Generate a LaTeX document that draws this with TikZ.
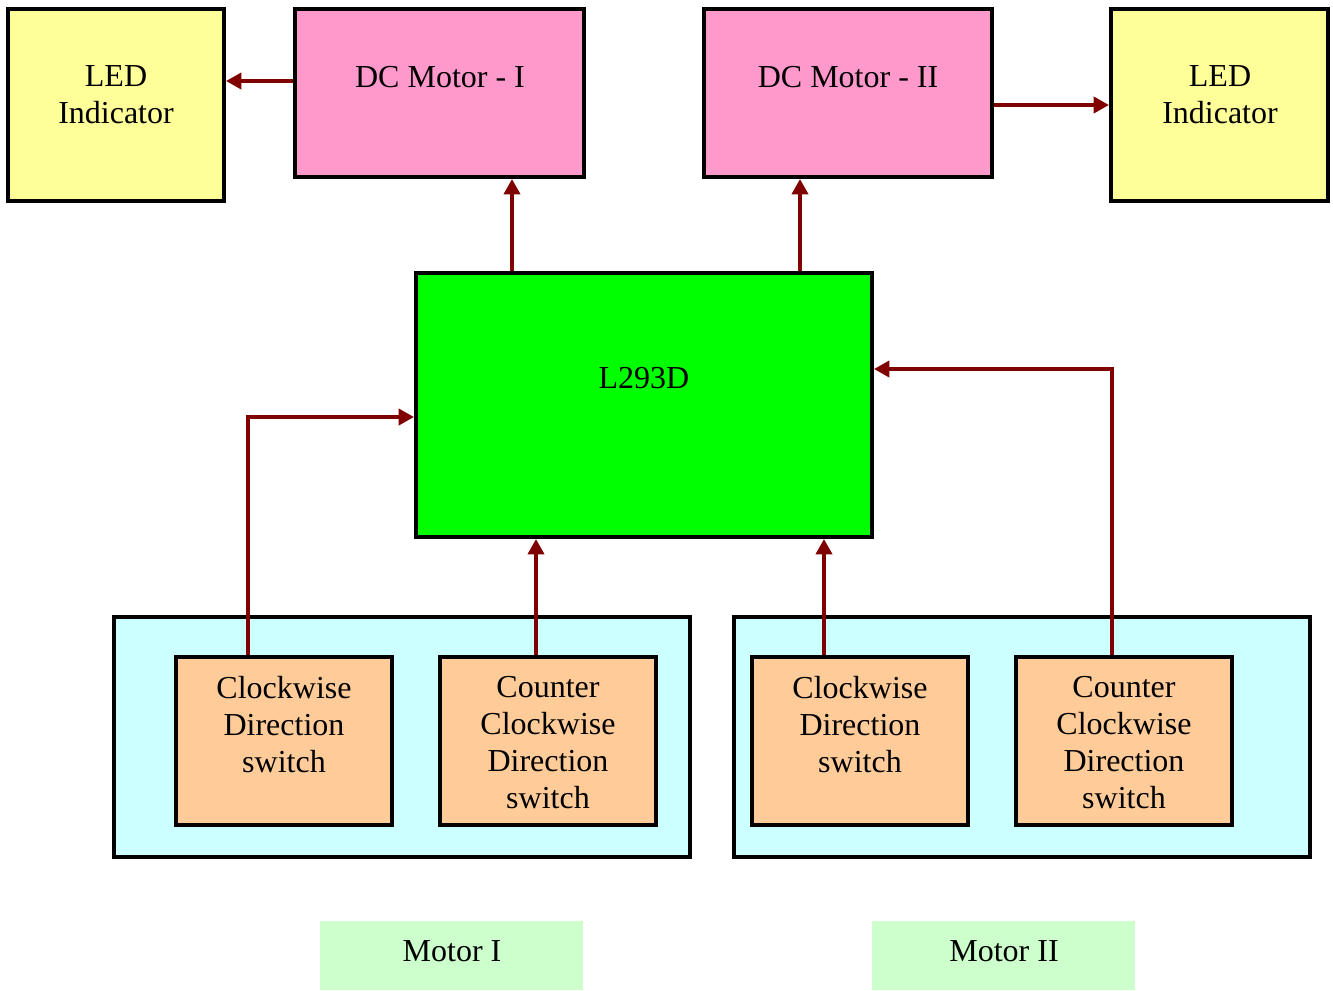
\documentclass[tikz,border=0pt]{standalone}
\usepackage{fontspec}
\setmainfont{Liberation Serif}
\usetikzlibrary{arrows.meta}
\definecolor{ledY}{HTML}{FFFF99}
\definecolor{motP}{HTML}{FF99CC}
\definecolor{chipG}{HTML}{00FF00}
\definecolor{grpC}{HTML}{CCFFFF}
\definecolor{swO}{HTML}{FFCC99}
\definecolor{labG}{HTML}{CCFFCC}
\definecolor{arrR}{HTML}{800000}
\tikzset{
  box/.style={draw=black, line width=3pt, rectangle, inner sep=0pt},
  lbl/.style={align=center, font=\fontsize{24pt}{27.75pt}\selectfont, inner sep=0pt},
  arr/.style={draw=arrR, line width=2.8pt, -{Triangle[length=11.5pt,width=12pt]}},
}
\begin{document}
\begin{tikzpicture}[x=0.75pt,y=-0.75pt]
\useasboundingbox (0,0) rectangle (1333,990);
% boxes
\node[box, fill=ledY, minimum width=162pt, minimum height=144pt] (ledL) at (116,105) {};
\node[box, fill=motP, minimum width=216.75pt, minimum height=126pt] (dc1) at (439.5,93) {};
\node[box, fill=motP, minimum width=216pt, minimum height=126pt] (dc2) at (848,93) {};
\node[box, fill=ledY, minimum width=162.75pt, minimum height=144pt] (ledR) at (1219.5,105) {};
\node[box, fill=chipG, minimum width=342pt, minimum height=198pt] (chip) at (644,405) {};
\node[box, fill=grpC, minimum width=432pt, minimum height=180pt] (grp1) at (402,737) {};
\node[box, fill=grpC, minimum width=432pt, minimum height=180pt] (grp2) at (1022,737) {};
\node[box, fill=swO, minimum width=162pt, minimum height=126pt] (sw1) at (284,741) {};
\node[box, fill=swO, minimum width=162pt, minimum height=126pt] (sw2) at (548,741) {};
\node[box, fill=swO, minimum width=162pt, minimum height=126pt] (sw3) at (860,741) {};
\node[box, fill=swO, minimum width=162pt, minimum height=126pt] (sw4) at (1124,741) {};
\node[fill=labG, minimum width=197.25pt, minimum height=51.75pt, inner sep=0pt] (m1) at (451.5,955.5) {};
\node[fill=labG, minimum width=197.25pt, minimum height=51.75pt, inner sep=0pt] (m2) at (1003.5,955.5) {};
% texts
\node[lbl] (tledL) at (116,95) {LED\\Indicator};
\node[lbl] (tledR) at (1220,95) {LED\\Indicator};
\node[lbl] (tdc1) at (440,77) {DC Motor - I};
\node[lbl] (tdc2) at (848,77) {DC Motor - II};
\node[lbl] (tchip) at (644,378) {L293D};
\node[lbl] (tsw1) at (284,725) {Clockwise\\Direction\\switch};
\node[lbl] (tsw2) at (548,743) {Counter\\Clockwise\\Direction\\switch};
\node[lbl] (tsw3) at (860,725) {Clockwise\\Direction\\switch};
\node[lbl] (tsw4) at (1124,743) {Counter\\Clockwise\\Direction\\switch};
\node[lbl] (tm1) at (452,951) {Motor I};
\node[lbl] (tm2) at (1004,951) {Motor II};
% helper coordinates
\coordinate (ya) at (0,81);
\coordinate (yb) at (0,105);
\coordinate (yc) at (0,417);
\coordinate (yd) at (0,369);
\coordinate (xa) at (512,0);
\coordinate (xb) at (800,0);
\coordinate (xc) at (248,0);
\coordinate (xd) at (536,0);
\coordinate (xe) at (824,0);
\coordinate (xf) at (1112,0);
% connectors
\draw[arr] (dc1.west |- ya) -- (ledL.east |- ya);
\draw[arr] (dc2.east |- yb) -- (ledR.west |- yb);
\draw[arr] (chip.north -| xa) -- (dc1.south -| xa);
\draw[arr] (chip.north -| xb) -- (dc2.south -| xb);
\draw[arr] (sw1.north -| xc) |- (chip.west |- yc);
\draw[arr] (sw2.north -| xd) -- (chip.south -| xd);
\draw[arr] (sw3.north -| xe) -- (chip.south -| xe);
\draw[arr] (sw4.north -| xf) |- (chip.east |- yd);
\end{tikzpicture}
\end{document}
